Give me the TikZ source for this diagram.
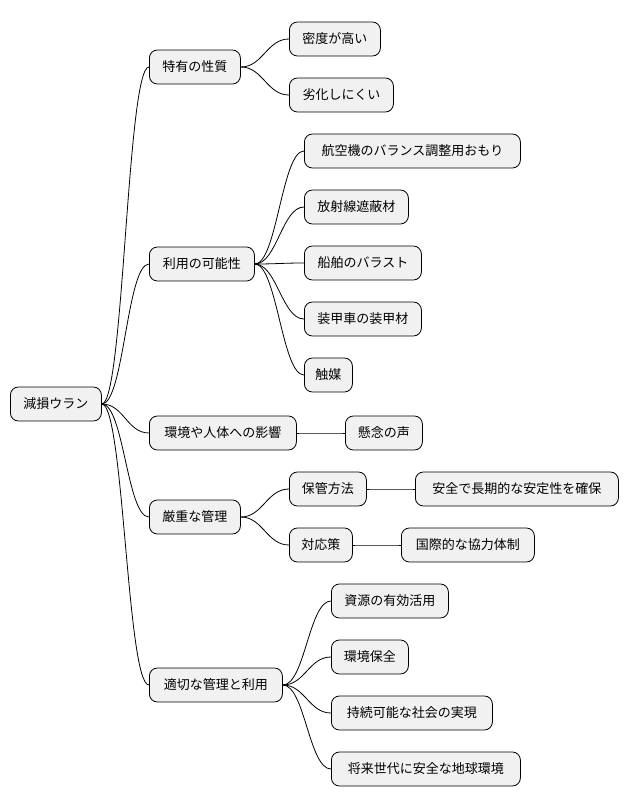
\documentclass[tikz,border=0pt]{standalone}
\usepackage{fontspec}
\setmainfont{Noto Sans CJK JP}
\begin{document}
\begin{tikzpicture}[x=1pt,y=-1pt,
  n/.style={draw=black,fill={rgb,255:red,241;green,241;blue,241},rounded corners=8pt,line width=0.8pt,minimum height=34pt,inner xsep=0pt,font=\fontsize{13}{15}\selectfont,anchor=west},
  e/.style={draw=black,line width=0.8pt}]
\useasboundingbox (0,0) rectangle (628,809);
\newcommand{\nd}[5]{\node[n,minimum width=#4pt] (#1) at (#2,#3) {#5};}
\nd{r}{10}{404}{91}{減損ウラン}
\nd{a}{149}{67}{91}{特有の性質}
\nd{a1}{289}{39}{91}{密度が高い}
\nd{a2}{289}{95}{104}{劣化しにくい}
\nd{b}{149}{264}{105}{利用の可能性}
\nd{b1}{304}{151}{216}{航空機のバランス調整用おもり}
\nd{b2}{304}{207}{104}{放射線遮蔽材}
\nd{b3}{304}{263}{117}{船舶のバラスト}
\nd{b4}{304}{319}{117}{装甲車の装甲材}
\nd{b5}{304}{375}{48}{触媒}
\nd{c}{149}{433}{147}{環境や人体への影響}
\nd{c1}{345}{433}{77}{懸念の声}
\nd{d}{149}{517}{91}{厳重な管理}
\nd{d1}{289}{489}{77}{保管方法}
\nd{d1a}{415}{489}{203}{安全で長期的な安定性を確保}
\nd{d2}{289}{545}{63}{対応策}
\nd{d2a}{401}{545}{133}{国際的な協力体制}
\nd{f}{149}{685}{133}{適切な管理と利用}
\nd{f1}{331}{601}{117}{資源の有効活用}
\nd{f2}{331}{657}{77}{環境保全}
\nd{f3}{331}{713}{161}{持続可能な社会の実現}
\nd{f4}{331}{769}{189}{将来世代に安全な地球環境}
\foreach \p/\c in {r/a,r/b,r/c,r/d,r/f,a/a1,a/a2,b/b1,b/b2,b/b3,b/b4,b/b5,c/c1,d/d1,d/d2,d1/d1a,d2/d2a,f/f1,f/f2,f/f3,f/f4}
  \draw[e] (\p.east) .. controls ([xshift=22pt]\p.east) and ([xshift=-22pt]\c.west) .. (\c.west);
\end{tikzpicture}
\end{document}
